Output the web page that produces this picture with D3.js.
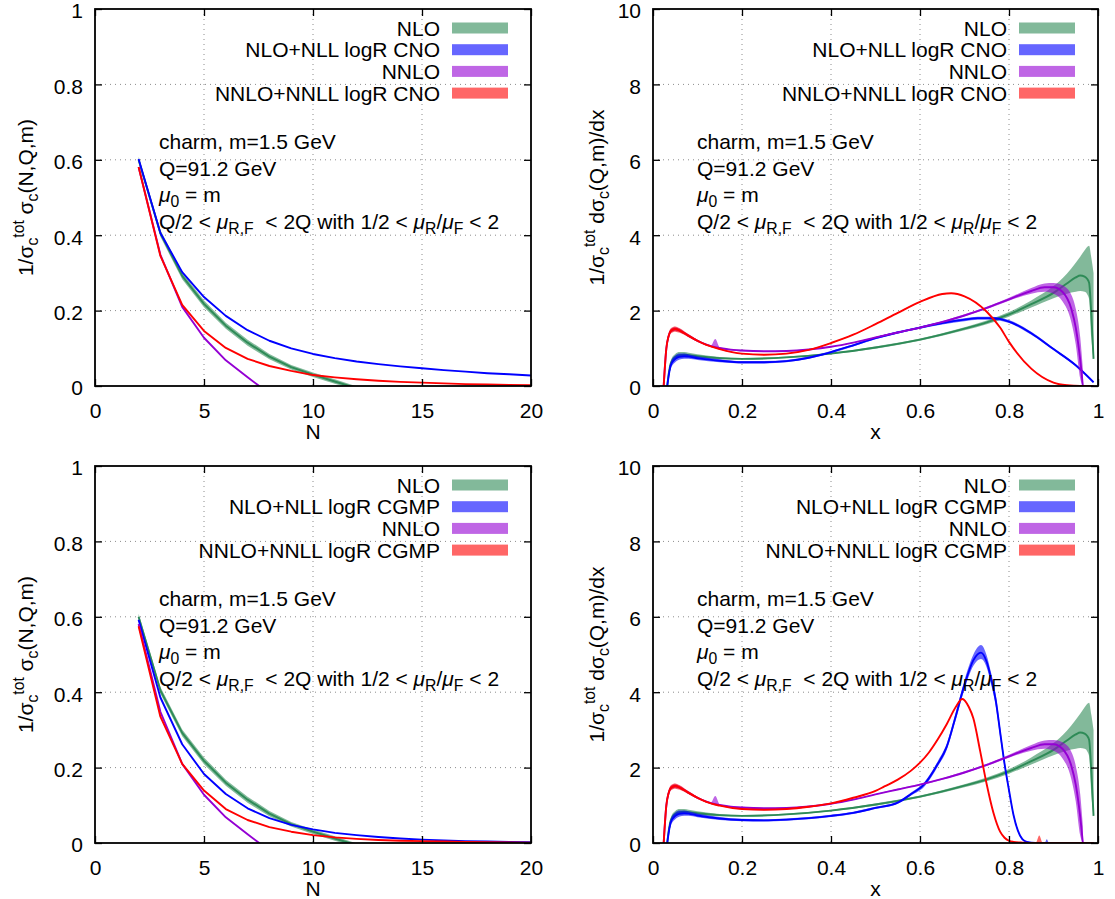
<!DOCTYPE html>
<html><head><meta charset="utf-8">
<script src="https://cdn.jsdelivr.net/npm/d3@7"></script>
<style>
body{margin:0;background:#fff}
svg{display:block}
text{font-family:"Liberation Sans",Arial,Helvetica,sans-serif;fill:#000;white-space:pre}
</style>
</head><body>
<svg id="c" width="1115" height="899"></svg>
<script>
// ---------------- labels / ticks ----------------
const legendCNO  = ["NLO", "NLO+NLL logR CNO", "NNLO", "NNLO+NNLL logR CNO"];
const legendCGMP = ["NLO", "NLO+NLL logR CGMP", "NNLO", "NNLO+NNLL logR CGMP"];
const xTicksN = [0, 5, 10, 15, 20];
const yTicksN = [0, 0.2, 0.4, 0.6, 0.8, 1];
const xTicksX = [0, 0.2, 0.4, 0.6, 0.8, 1];
const yTicksX = [0, 2, 4, 6, 8, 10];

// ---------------- N-space moments ----------------
const nGrid     = [2,3,4,5,6,7,8,9,10,11,12,13,14,15,16,17,18,19,20];
const nGridNLO  = [2,3,4,5,6,7,8,9,10,11,12];
const nGridNNLO = [2,3,4,5,6,7,8];
const nloN   = [0.600,0.405,0.292,0.218,0.160,0.115,0.078,0.050,0.030,0.012,-0.006];
const nloNLo = [0.592,0.396,0.283,0.209,0.152,0.107,0.071,0.044,0.024,0.006,-0.011];
const nloNHi = [0.608,0.414,0.301,0.227,0.168,0.123,0.085,0.056,0.036,0.018,-0.001];
const nnloN  = [0.581,0.348,0.210,0.128,0.068,0.023,-0.020];
const cnoNllN   = [0.602,0.406,0.302,0.236,0.186,0.148,0.120,0.100,0.085,0.074,0.065,0.058,0.052,0.047,0.042,0.038,0.034,0.031,0.028];
const cnoNnllN  = [0.581,0.345,0.215,0.146,0.101,0.072,0.053,0.040,0.029,0.023,0.018,0.014,0.011,0.009,0.007,0.005,0.004,0.003,0.002];
const cgmpNllN  = [0.592,0.386,0.262,0.183,0.130,0.092,0.066,0.048,0.036,0.027,0.021,0.016,0.012,0.009,0.007,0.005,0.004,0.003,0.002];
const cgmpNnllN = [0.575,0.335,0.210,0.139,0.090,0.061,0.042,0.030,0.021,0.015,0.011,0.008,0.006,0.005,0.004,0.003,0.002,0.0015,0.001];

// ---------------- x-space distributions ----------------
const nloX   = [0.032,0.036,0.04,0.05,0.06,0.07,0.08,0.1,0.15,0.2,0.3,0.4,0.5,0.6,0.7,0.75,0.8,0.85,0.9,0.93,0.95,0.96,0.97,0.975,0.98,0.985,0.99];
const nloMid = [0,0.38,0.6,0.77,0.82,0.83,0.82,0.79,0.74,0.72,0.76,0.86,1.02,1.23,1.52,1.69,1.9,2.17,2.47,2.72,2.88,2.93,2.9,2.85,2.74,1.9,0.72];
const nloLo  = [0,0.3,0.52,0.69,0.74,0.76,0.76,0.74,0.71,0.7,0.74,0.84,0.99,1.2,1.48,1.64,1.84,2.08,2.33,2.45,2.5,2.52,2.5,2.45,2.3,1.3,0.7];
const nloHi  = [0,0.45,0.68,0.85,0.9,0.9,0.88,0.84,0.77,0.74,0.78,0.88,1.05,1.26,1.56,1.74,1.96,2.27,2.65,2.98,3.27,3.43,3.6,3.68,3.72,3.4,3.0];

const nnloX   = [0.024,0.03,0.035,0.04,0.05,0.06,0.08,0.1,0.12,0.13,0.14,0.15,0.17,0.2,0.25,0.3,0.35,0.4,0.45,0.5,0.55,0.6,0.65,0.7,0.75,0.8,0.85,0.88,0.9,0.92,0.94,0.95,0.96,0.966];
const nnloMid = [0,1.0,1.32,1.46,1.51,1.47,1.33,1.2,1.1,1.06,1.03,1.01,0.97,0.94,0.92,0.93,0.97,1.04,1.15,1.29,1.42,1.55,1.7,1.87,2.07,2.3,2.52,2.62,2.62,2.5,2.05,1.55,0.7,0];
const nnloLo  = [0,0.95,1.27,1.41,1.46,1.43,1.3,1.17,1.08,1.04,1.01,0.99,0.95,0.92,0.91,0.92,0.96,1.03,1.14,1.28,1.41,1.53,1.68,1.85,2.04,2.26,2.45,2.5,2.45,2.25,1.7,1.1,0.2,0];
const nnloHi  = [0,1.05,1.37,1.51,1.56,1.52,1.37,1.23,1.12,1.08,1.25,1.03,0.99,0.96,0.93,0.94,0.98,1.05,1.16,1.3,1.44,1.57,1.72,1.9,2.1,2.34,2.6,2.72,2.73,2.67,2.42,2.05,1.3,0.45];

const cnoNllX   = [0.032,0.036,0.04,0.05,0.06,0.07,0.08,0.1,0.15,0.2,0.25,0.3,0.35,0.4,0.45,0.5,0.55,0.6,0.65,0.7,0.73,0.76,0.8,0.85,0.9,0.95,0.99];
const cnoNllMid = [0,0.33,0.55,0.72,0.78,0.79,0.78,0.74,0.67,0.63,0.63,0.66,0.75,0.9,1.08,1.27,1.42,1.55,1.67,1.76,1.8,1.8,1.71,1.4,0.98,0.55,0.1];
const cnoNllLo  = [0,0.25,0.46,0.63,0.70,0.72,0.72,0.69,0.63,0.60,0.60,0.63,0.72,0.87,1.05,1.24,1.39,1.52,1.63,1.72,1.76,1.76,1.67,1.36,0.95,0.52,0.08];
const cnoNllHi  = [0,0.41,0.64,0.81,0.86,0.86,0.84,0.79,0.71,0.66,0.66,0.69,0.78,0.93,1.11,1.30,1.45,1.58,1.71,1.80,1.84,1.84,1.75,1.44,1.01,0.58,0.12];

const cnoNnllX   = [0.024,0.03,0.035,0.04,0.05,0.06,0.08,0.1,0.12,0.15,0.2,0.25,0.3,0.35,0.4,0.45,0.5,0.55,0.6,0.65,0.67,0.7,0.75,0.78,0.8,0.85,0.9,0.93,0.96,0.99];
const cnoNnllMid = [0,1.0,1.32,1.46,1.51,1.47,1.33,1.2,1.09,0.98,0.86,0.83,0.86,0.96,1.14,1.36,1.64,1.94,2.23,2.44,2.46,2.38,1.97,1.55,1.17,0.46,0.09,0.02,0,0];
const cnoNnllLo  = [0,0.93,1.25,1.39,1.44,1.41,1.29,1.17,1.07,0.97,0.85,0.82,0.85,0.95,1.13,1.35,1.63,1.93,2.22,2.43,2.45,2.37,1.96,1.54,1.16,0.45,0.08,0.01,0,0];
const cnoNnllHi  = [0,1.07,1.39,1.53,1.58,1.53,1.37,1.23,1.11,0.99,0.87,0.84,0.87,0.97,1.15,1.37,1.65,1.95,2.24,2.45,2.47,2.39,1.98,1.56,1.18,0.47,0.1,0.03,0,0];

const cgmpNllX   = [0.032,0.036,0.04,0.05,0.06,0.07,0.08,0.1,0.15,0.2,0.25,0.3,0.35,0.4,0.45,0.5,0.55,0.58,0.61,0.64,0.66,0.68,0.7,0.72,0.737,0.75,0.76,0.77,0.78,0.79,0.8,0.81,0.82,0.83,0.84,0.86,0.88,0.885,0.89,0.92,0.99];
const cgmpNllMid = [0,0.33,0.55,0.72,0.78,0.79,0.78,0.73,0.65,0.61,0.6,0.62,0.66,0.72,0.8,0.93,1.07,1.3,1.56,2.1,2.55,3.35,4.2,4.85,5.05,4.8,4.35,3.8,2.95,2.1,1.4,0.75,0.33,0.1,0.03,0,0,0,0,0,0];
const cgmpNllLo  = [0,0.25,0.46,0.63,0.70,0.72,0.72,0.68,0.61,0.58,0.57,0.59,0.63,0.69,0.77,0.9,1.04,1.26,1.5,2.03,2.47,3.25,4.08,4.7,4.88,4.65,4.2,3.65,2.82,2.0,1.32,0.7,0.3,0.08,0.02,0,0,0,0,0,0];
const cgmpNllHi  = [0,0.41,0.64,0.81,0.86,0.86,0.84,0.78,0.69,0.64,0.63,0.65,0.69,0.75,0.83,0.96,1.1,1.34,1.62,2.17,2.63,3.45,4.32,5.0,5.25,4.97,4.5,3.95,3.08,2.2,1.48,0.8,0.36,0.12,0.04,0.01,0,0.1,0,0,0];

const cgmpNnllX   = [0.024,0.03,0.035,0.04,0.05,0.06,0.08,0.1,0.12,0.15,0.2,0.25,0.3,0.35,0.4,0.45,0.5,0.52,0.55,0.58,0.6,0.62,0.64,0.66,0.68,0.695,0.71,0.72,0.735,0.75,0.765,0.78,0.79,0.8,0.81,0.83,0.86,0.868,0.876,0.9,0.99];
const cgmpNnllMid = [0,1.0,1.32,1.46,1.51,1.47,1.33,1.2,1.09,0.99,0.9,0.88,0.9,0.96,1.05,1.2,1.38,1.5,1.68,1.92,2.13,2.4,2.75,3.15,3.6,3.82,3.6,3.3,2.45,1.55,0.8,0.3,0.14,0.06,0.03,0.01,0,0,0,0,0];
const cgmpNnllLo  = [0,0.93,1.25,1.39,1.44,1.41,1.29,1.17,1.07,0.98,0.89,0.87,0.89,0.95,1.04,1.19,1.37,1.49,1.67,1.91,2.12,2.39,2.74,3.14,3.59,3.8,3.58,3.28,2.43,1.53,0.78,0.29,0.13,0.05,0.02,0,0,0,0,0,0];
const cgmpNnllHi  = [0,1.07,1.39,1.53,1.58,1.53,1.37,1.23,1.11,1.0,0.91,0.89,0.91,0.97,1.06,1.21,1.39,1.51,1.69,1.93,2.14,2.41,2.76,3.16,3.61,3.84,3.62,3.32,2.47,1.57,0.82,0.31,0.15,0.07,0.04,0.02,0,0.2,0,0,0];

// ---------------- drawing ----------------
const svg = d3.select("#c");
const defs = svg.append("defs");
svg.append("rect").attr("width",1115).attr("height",899).attr("fill","#fff");
const FS = 21;
const COL = {
  nlo:  {fill:"#2e8b57", line:"#2e8b57"},
  nll:  {fill:"#0000ff", line:"#0000ff"},
  nnlo: {fill:"#9400d3", line:"#9400d3"},
  nnll: {fill:"#ff0000", line:"#ff0000"}
};

function addRich(sel, parts){
  let shift = 0;
  parts.forEach(([t,k])=>{
    const ts = sel.append("tspan").text(t);
    let target = 0;
    if (k==="sub"){ ts.attr("font-size",FS*0.75); target = 5; }
    else if (k==="sup"){ ts.attr("font-size",FS*0.75); target = -9; }
    if (k==="i") ts.attr("font-style","italic");
    if (target!==shift){ ts.attr("dy", target-shift); shift = target; }
  });
}

function panel(p){
  const x = d3.scaleLinear().domain(p.xDom).range([p.left,p.right]);
  const y = d3.scaleLinear().domain(p.yDom).range([p.bottom,p.top]);
  const g = svg.append("g");
  // grid
  g.append("g").selectAll("line").data(p.xTicks.slice(1,-1)).join("line")
    .attr("x1",d=>x(d)).attr("x2",d=>x(d)).attr("y1",p.top).attr("y2",p.bottom)
    .attr("stroke","#8c8c8c").attr("stroke-width",1).attr("stroke-dasharray","1,4");
  g.append("g").selectAll("line").data(p.yTicks.slice(1,-1)).join("line")
    .attr("y1",d=>y(d)).attr("y2",d=>y(d)).attr("x1",p.left).attr("x2",p.right)
    .attr("stroke","#8c8c8c").attr("stroke-width",1).attr("stroke-dasharray","1,4");
  // clip
  defs.append("clipPath").attr("id","clip"+p.id).append("rect")
    .attr("x",p.left).attr("y",p.top).attr("width",p.right-p.left).attr("height",p.bottom-p.top);
  const plot = g.append("g").attr("clip-path",`url(#clip${p.id})`);
  p.series.forEach(s=>{
    const pts = s.x.map((xv,i)=>({x:xv, m:s.mid[i], lo:s.lo?s.lo[i]:null, hi:s.hi?s.hi[i]:null}));
    if (s.lo){
      plot.append("path").datum(pts)
        .attr("d", d3.area().x(d=>x(d.x)).y0(d=>y(d.lo)).y1(d=>y(d.hi)).curve(p.curve))
        .attr("fill", s.c.fill).attr("fill-opacity",0.6).attr("stroke","none");
    }
    plot.append("path").datum(pts)
      .attr("d", d3.line().x(d=>x(d.x)).y(d=>y(d.m)).curve(p.curve))
      .attr("fill","none").attr("stroke", s.c.line).attr("stroke-width",1.9).attr("stroke-linejoin","round");
  });
  // axes
  const fmt = d3.format("~g");
  const styleAxis = a => { a.select(".domain").remove(); a.attr("font-size",FS).attr("font-family",null);
    a.selectAll(".tick line").attr("stroke","#000").attr("stroke-width",1.3); a.selectAll("text").attr("fill","#000"); };
  g.append("g").attr("transform",`translate(0,${p.bottom})`)
    .call(d3.axisBottom(x).tickValues(p.xTicks).tickFormat(fmt).tickSize(-7).tickPadding(17)).call(styleAxis);
  g.append("g").attr("transform",`translate(0,${p.top})`)
    .call(d3.axisTop(x).tickValues(p.xTicks).tickFormat("").tickSize(-7)).call(styleAxis);
  g.append("g").attr("transform",`translate(${p.left},0)`)
    .call(d3.axisLeft(y).tickValues(p.yTicks).tickFormat(fmt).tickSize(-7).tickPadding(12)).call(styleAxis)
    .call(a=>a.selectAll("text").attr("dy","0.42em"));
  g.append("g").attr("transform",`translate(${p.right},0)`)
    .call(d3.axisRight(y).tickValues(p.yTicks).tickFormat("").tickSize(-7)).call(styleAxis);
  // frame
  g.append("rect").attr("x",p.left).attr("y",p.top).attr("width",p.right-p.left).attr("height",p.bottom-p.top)
    .attr("fill","none").attr("stroke","#000").attr("stroke-width",1.8);
  // axis titles
  g.append("text").attr("x",(p.left+p.right)/2).attr("y",p.bottom+53).attr("text-anchor","middle")
    .attr("font-size",FS).text(p.xTitle);
  const yt = g.append("text").attr("text-anchor","middle").attr("font-size",FS)
    .attr("transform",`translate(${p.yTitleX},${(p.top+p.bottom)/2}) rotate(-90)`);
  addRich(yt, p.yTitle);
  // legend
  p.legend.forEach((lab,i)=>{
    const cy = p.top + 19 + i*21.7;
    g.append("text").attr("x",p.right-91).attr("y",cy+7.5).attr("text-anchor","end").attr("font-size",FS).text(lab);
    g.append("rect").attr("x",p.right-79).attr("y",cy-5.5).attr("width",56).attr("height",11)
      .attr("fill",p.series[i].c.fill).attr("fill-opacity",0.6);
  });
  // annotation
  const ax0 = p.left + p.annotDx;
  const lines = [
    [["charm, m=1.5 GeV","n"]],
    [["Q=91.2 GeV","n"]],
    [["μ","i"],["0","sub"],[" = m","n"]],
    [["Q/2 < ","n"],["μ","i"],["R,F","sub"],["  < 2Q with 1/2 < ","n"],["μ","i"],["R","sub"],["/","n"],["μ","i"],["F","sub"],[" < 2","n"]]
  ];
  const base = [140,167,193,220];
  lines.forEach((ln,i)=>{
    const t = g.append("text").attr("x",ax0).attr("y",p.top+base[i]).attr("font-size",FS);
    addRich(t, ln);
  });
}

const yTitleN = [["1/σ","n"],["c","sub"],["tot","sup"],[" σ","n"],["c","sub"],["(N,Q,m)","n"]];
const yTitleX = [["1/σ","n"],["c","sub"],["tot","sup"],[" dσ","n"],["c","sub"],["(Q,m)/dx","n"]];

const L = {left:95, right:531}, R = {left:653, right:1098};
const T = {top:9, bottom:386}, B = {top:466, bottom:843};

panel({id:"tl", ...L, ...T, xDom:[0,20], yDom:[0,1], xTicks:xTicksN, yTicks:yTicksN, curve:d3.curveLinear,
  xTitle:"N", yTitle:yTitleN, yTitleX:33, legend:legendCNO, annotDx:64,
  series:[
    {c:COL.nlo,  x:nGridNLO, mid:nloN, lo:nloNLo, hi:nloNHi},
    {c:COL.nll,  x:nGrid, mid:cnoNllN},
    {c:COL.nnlo, x:nGridNNLO, mid:nnloN},
    {c:COL.nnll, x:nGrid, mid:cnoNnllN}
  ]});
panel({id:"bl", ...L, ...B, xDom:[0,20], yDom:[0,1], xTicks:xTicksN, yTicks:yTicksN, curve:d3.curveLinear,
  xTitle:"N", yTitle:yTitleN, yTitleX:33, legend:legendCGMP, annotDx:64,
  series:[
    {c:COL.nlo,  x:nGridNLO, mid:nloN, lo:nloNLo, hi:nloNHi},
    {c:COL.nll,  x:nGrid, mid:cgmpNllN},
    {c:COL.nnlo, x:nGridNNLO, mid:nnloN},
    {c:COL.nnll, x:nGrid, mid:cgmpNnllN}
  ]});
panel({id:"tr", ...R, ...T, xDom:[0,1], yDom:[0,10], xTicks:xTicksX, yTicks:yTicksX, curve:d3.curveMonotoneX,
  xTitle:"x", yTitle:yTitleX, yTitleX:604, legend:legendCNO, annotDx:44,
  series:[
    {c:COL.nlo,  x:nloX, mid:nloMid, lo:nloLo, hi:nloHi},
    {c:COL.nll,  x:cnoNllX, mid:cnoNllMid, lo:cnoNllLo, hi:cnoNllHi},
    {c:COL.nnlo, x:nnloX, mid:nnloMid, lo:nnloLo, hi:nnloHi},
    {c:COL.nnll, x:cnoNnllX, mid:cnoNnllMid, lo:cnoNnllLo, hi:cnoNnllHi}
  ]});
panel({id:"br", ...R, ...B, xDom:[0,1], yDom:[0,10], xTicks:xTicksX, yTicks:yTicksX, curve:d3.curveMonotoneX,
  xTitle:"x", yTitle:yTitleX, yTitleX:604, legend:legendCGMP, annotDx:44,
  series:[
    {c:COL.nlo,  x:nloX, mid:nloMid, lo:nloLo, hi:nloHi},
    {c:COL.nll,  x:cgmpNllX, mid:cgmpNllMid, lo:cgmpNllLo, hi:cgmpNllHi},
    {c:COL.nnlo, x:nnloX, mid:nnloMid, lo:nnloLo, hi:nnloHi},
    {c:COL.nnll, x:cgmpNnllX, mid:cgmpNnllMid, lo:cgmpNnllLo, hi:cgmpNnllHi}
  ]});
</script>
</body></html>
